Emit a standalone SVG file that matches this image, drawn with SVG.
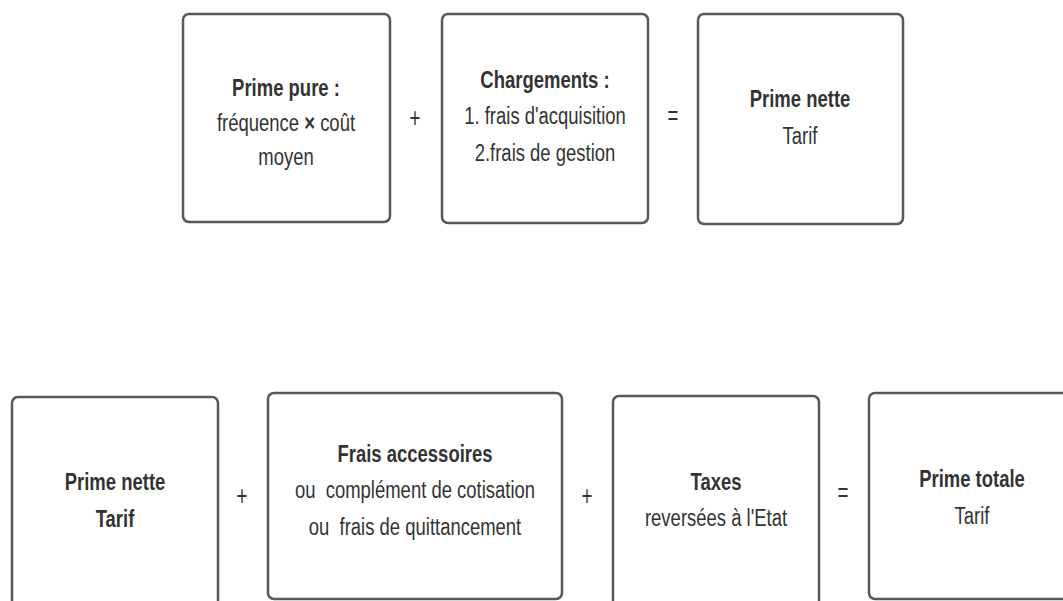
<svg xmlns="http://www.w3.org/2000/svg" width="1063" height="601" viewBox="0 0 1063 601">
<style>
.box{fill:#fff;stroke:#595959;stroke-width:2.5}
.t{font-family:"Liberation Sans",Arial,sans-serif;font-size:22px;fill:#333;text-anchor:middle}
.b{font-weight:bold}
.op{font-family:"Liberation Sans",Arial,sans-serif;font-size:22px;fill:#333;text-anchor:middle}
</style>
<rect width="1063" height="601" fill="#fff"/>
<g id="connectors">
<text class="op" transform="translate(415,127) scale(0.85,1.25)">+</text>
<text class="op" transform="translate(673,125) scale(0.85,1.25)">=</text>
<text class="op" transform="translate(242,505) scale(0.85,1.25)">+</text>
<text class="op" transform="translate(587,505) scale(0.85,1.25)">+</text>
<text class="op" transform="translate(843,502) scale(0.85,1.25)">=</text>
</g>
<g id="prime-pure">
<rect class="box" x="183" y="14" width="207" height="208" rx="6"/>
<text class="t b" transform="translate(286,96) scale(0.84,1.12)">Prime pure :</text>
<text class="t" transform="translate(286,131) scale(0.84,1.12)">fréquence <tspan font-weight="bold">×</tspan> coût</text>
<text class="t" transform="translate(286,165) scale(0.84,1.12)">moyen</text>
</g>
<g id="chargements">
<rect class="box" x="442" y="14" width="206" height="209" rx="6"/>
<text class="t b" transform="translate(545,88) scale(0.84,1.12)">Chargements :</text>
<text class="t" transform="translate(545,124) scale(0.84,1.12)">1. frais d'acquisition</text>
<text class="t" transform="translate(545,161) scale(0.84,1.12)">2.frais de gestion</text>
</g>
<g id="prime-nette-1">
<rect class="box" x="698" y="14" width="205" height="210" rx="6"/>
<text class="t b" transform="translate(800,107) scale(0.84,1.12)">Prime nette</text>
<text class="t" transform="translate(800,144) scale(0.84,1.12)">Tarif</text>
</g>
<g id="prime-nette-2">
<rect class="box" x="12" y="397" width="206" height="220" rx="6"/>
<text class="t b" transform="translate(115,490) scale(0.84,1.12)">Prime nette</text>
<text class="t b" transform="translate(115,527) scale(0.84,1.12)">Tarif</text>
</g>
<g id="frais-accessoires">
<rect class="box" x="268" y="393" width="294" height="206" rx="6"/>
<text class="t b" transform="translate(415,462) scale(0.84,1.12)">Frais accessoires</text>
<text class="t" transform="translate(415,498) scale(0.84,1.12)" xml:space="preserve">ou  complément de cotisation</text>
<text class="t" transform="translate(415,535) scale(0.84,1.12)" xml:space="preserve">ou  frais de quittancement</text>
</g>
<g id="taxes">
<rect class="box" x="613" y="396" width="206" height="220" rx="6"/>
<text class="t b" transform="translate(716,490) scale(0.84,1.12)">Taxes</text>
<text class="t" transform="translate(716,526) scale(0.84,1.12)">reversées à l'Etat</text>
</g>
<g id="prime-totale">
<rect class="box" x="869" y="393" width="206" height="206" rx="6"/>
<text class="t b" transform="translate(972,487) scale(0.84,1.12)">Prime totale</text>
<text class="t" transform="translate(972,524) scale(0.84,1.12)">Tarif</text>
</g>
</svg>
